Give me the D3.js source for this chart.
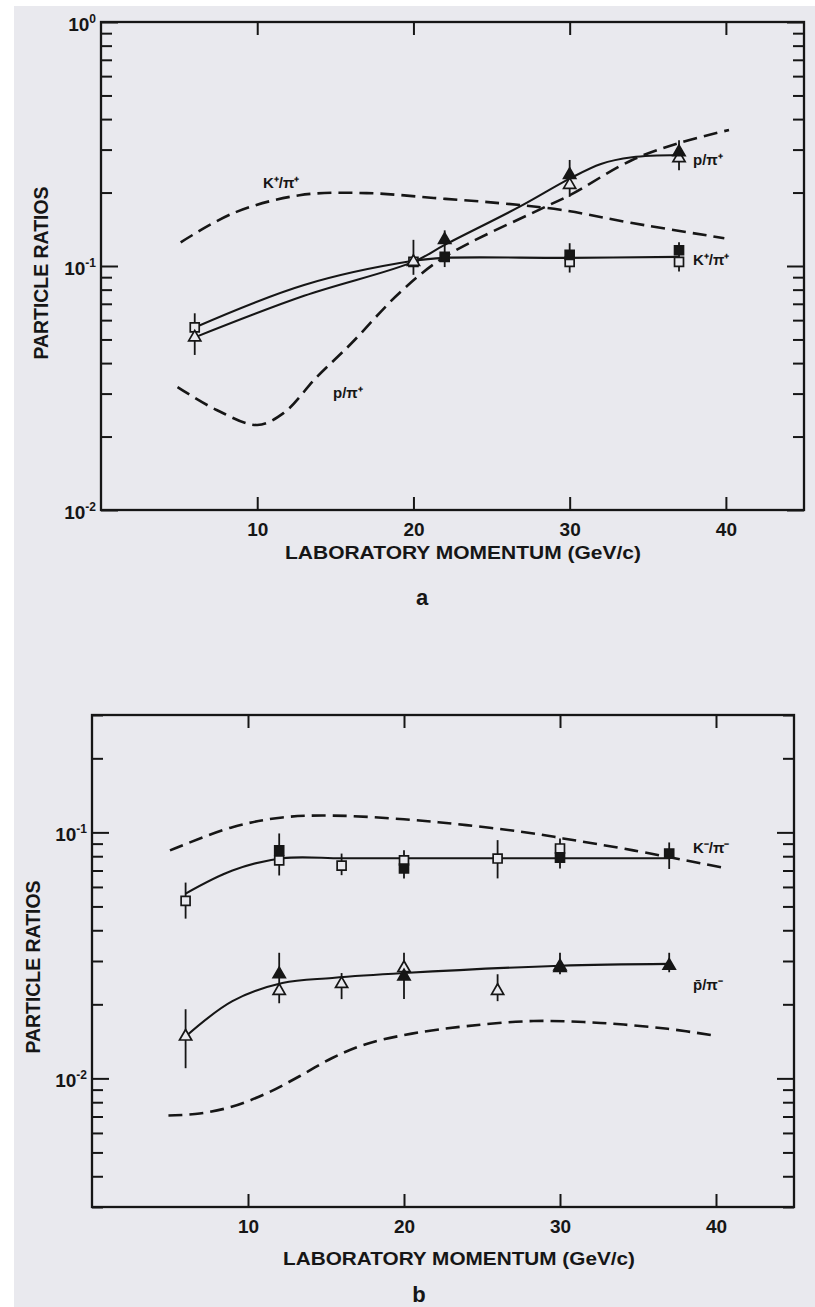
<!DOCTYPE html>
<html><head><meta charset="utf-8">
<script src="https://cdn.jsdelivr.net/npm/d3@7"></script>
<style>body{margin:0;background:#fff}svg{display:block}</style>
</head><body>
<script>
// ---------------- DATA ----------------
const xTicks = [10, 20, 30, 40];
const xDomain = [0, 45];
const xTitle = "LABORATORY MOMENTUM (GeV/c)";
const yTitle = "PARTICLE RATIOS";
const panelLetters = ["a", "b"];
const decadeExpA = [0, -1, -2];
const decadeExpB = [-1, -2];

// Panel a : K+/pi+ and p/pi+
const aKOpenX = [6, 20, 30, 37];
const aKOpenY = [0.056, 0.104, 0.104, 0.104];
const aKFillX = [22, 30, 37];
const aKFillY = [0.109, 0.111, 0.116];
const aPOpenX = [6, 20, 30, 37];
const aPOpenY = [0.051, 0.104, 0.215, 0.277];
const aPFillX = [22, 30, 37];
const aPFillY = [0.128, 0.236, 0.293];
const aErrX  = [6, 20, 22, 30, 30, 37, 37];
const aErrLo = [0.0432, 0.092, 0.099, 0.192, 0.094, 0.247, 0.095];
const aErrHi = [0.064, 0.128, 0.140, 0.272, 0.124, 0.328, 0.125];
const aKSolidX = [6, 13, 20, 22, 30, 37];
const aKSolidY = [0.056, 0.0836, 0.105, 0.108, 0.108, 0.109];
const aPSolidX = [6, 13, 20, 22, 26.8, 30, 32, 34, 37];
const aPSolidY = [0.051, 0.0755, 0.104, 0.122, 0.175, 0.228, 0.262, 0.279, 0.285];
const aKDashX = [5.1, 8.5, 12.7, 17, 21.3, 25.5, 29.4, 34, 39.9];
const aKDashY = [0.125, 0.165, 0.195, 0.199, 0.190, 0.181, 0.170, 0.150, 0.130];
const aPDashX = [4.9, 7.4, 10, 11.7, 13.8, 16, 19.1, 22, 28.3, 30, 34, 37, 40.2];
const aPDashY = [0.0319, 0.0257, 0.0223, 0.025, 0.035, 0.048, 0.0775, 0.109, 0.173, 0.195, 0.272, 0.319, 0.361];

// Panel b : K-/pi- and pbar/pi-
const bKOpenX = [6, 12, 16, 20, 26, 30];
const bKOpenY = [0.0527, 0.0769, 0.0733, 0.0769, 0.0783, 0.086];
const bKFillX = [12, 20, 30, 37];
const bKFillY = [0.0845, 0.0713, 0.079, 0.082];
const bPOpenX = [6, 12, 16, 20, 26, 30];
const bPOpenY = [0.0148, 0.0227, 0.0242, 0.0281, 0.0227, 0.0285];
const bPFillX = [12, 20, 30, 37];
const bPFillY = [0.0265, 0.026, 0.0281, 0.0287];
const bErrX  = [6, 12, 16, 20, 26, 30, 37, 6, 12, 16, 20, 26, 30, 37];
const bErrLo = [0.0446, 0.0668, 0.067, 0.065, 0.065, 0.0713, 0.071, 0.011, 0.0202, 0.021, 0.021, 0.0206, 0.0265, 0.027];
const bErrHi = [0.0625, 0.099, 0.082, 0.0845, 0.093, 0.0945, 0.091, 0.0191, 0.0324, 0.0268, 0.0324, 0.0265, 0.0324, 0.0324];
const bKSolidX = [6, 9, 12.2, 16, 20, 30, 37];
const bKSolidY = [0.0564, 0.070, 0.0785, 0.0785, 0.0785, 0.0785, 0.0785];
const bPSolidX = [6, 9, 12.2, 15.4, 20, 30, 37];
const bPSolidY = [0.0148, 0.0206, 0.0244, 0.0256, 0.0268, 0.0287, 0.0292];
const bKDashX = [5, 9, 12.2, 15.4, 20, 24, 28.3, 30.2, 34.7, 40.4];
const bKDashY = [0.0845, 0.105, 0.115, 0.117, 0.113, 0.107, 0.099, 0.0945, 0.0845, 0.072];
const bPDashX = [4.9, 6.9, 9, 11.2, 13.3, 15.4, 17.6, 20.5, 24, 28.3, 32.6, 36.9, 40];
const bPDashY = [0.00706, 0.0072, 0.00768, 0.0087, 0.0102, 0.0121, 0.0138, 0.0152, 0.0163, 0.0171, 0.0168, 0.0159, 0.0149];

// ---------------- DRAW ----------------
const W = 815, H = 1307;
const ink = "#161616";
const paper = "#e9e9ee";
const font = "'Liberation Sans', Arial, sans-serif";

const svg = d3.select("body").append("svg").attr("width", W).attr("height", H);
svg.append("rect").attr("width", W).attr("height", H).attr("fill", "#fff");
svg.append("rect").attr("x", 14).attr("y", 6).attr("width", W - 14).attr("height", H - 6).attr("fill", paper);

function drawPanel(c) {
  const x = d3.scaleLinear().domain(xDomain).range([c.left, c.right]);
  const y = d3.scaleLog().domain(c.yDomain).range([c.bottom, c.top]);
  const g = svg.append("g");
  const line = d3.line().x(d => x(d[0])).y(d => y(d[1])).curve(d3.curveCatmullRom.alpha(0.5));

  // frame
  g.append("rect").attr("x", c.left).attr("y", c.top)
    .attr("width", c.right - c.left).attr("height", c.bottom - c.top)
    .attr("fill", "none").attr("stroke", ink).attr("stroke-width", 2.3);

  const allT = y.ticks();
  const major = allT.filter(v => Math.abs(Math.log10(v) - Math.round(Math.log10(v))) < 1e-9);
  const minor = allT.filter(v => !major.includes(v));

  function styleAxis(sel) {
    sel.select(".domain").remove();
    sel.selectAll(".tick line").attr("stroke", ink).attr("stroke-width", 2);
  }
  // x axes
  const xb = g.append("g").attr("transform", `translate(0,${c.bottom})`)
    .call(d3.axisBottom(x).tickValues(xTicks).tickSize(-13).tickPadding(13).tickFormat(d3.format("d")));
  styleAxis(xb);
  xb.selectAll(".tick text").attr("fill", ink).attr("font-family", font)
    .attr("font-size", 19).attr("font-weight", "bold");
  const xt = g.append("g").attr("transform", `translate(0,${c.top})`)
    .call(d3.axisTop(x).tickValues(xTicks).tickSize(-13).tickFormat(""));
  styleAxis(xt);

  // y axes (left & right), major and minor
  [[d3.axisLeft, c.left], [d3.axisRight, c.right]].forEach(([ax, pos]) => {
    const gm = g.append("g").attr("transform", `translate(${pos},0)`)
      .call(ax(y).tickValues(minor).tickSize(-11).tickFormat(""));
    styleAxis(gm);
    const gM = g.append("g").attr("transform", `translate(${pos},0)`)
      .call(ax(y).tickValues(major).tickSize(-17).tickFormat(""));
    styleAxis(gM);
  });

  // decade labels
  c.decades.forEach(e => {
    const t = g.append("text").attr("x", c.left - 5).attr("y", y(Math.pow(10, e)) + 9)
      .attr("text-anchor", "end").attr("fill", ink).attr("font-family", font)
      .attr("font-weight", "bold").attr("font-size", 19);
    t.append("tspan").text("10");
    t.append("tspan").attr("dy", -8).attr("font-size", 12).text(e === 0 ? "0" : String(e));
  });

  // titles
  g.append("text").attr("x", c.xTitleX).attr("y", c.xTitleY).attr("text-anchor", "middle")
    .attr("fill", ink).attr("font-family", font).attr("font-weight", "bold").attr("font-size", 19)
    .attr("textLength", c.xTitleLen).attr("lengthAdjust", "spacingAndGlyphs").text(xTitle);
  g.append("text").attr("transform", `translate(${c.yTitleX},${c.yTitleY}) rotate(-90)`)
    .attr("text-anchor", "middle").attr("fill", ink).attr("font-family", font)
    .attr("font-weight", "bold").attr("font-size", 20)
    .attr("textLength", 173).attr("lengthAdjust", "spacingAndGlyphs").text(yTitle);
  g.append("text").attr("x", c.letterX).attr("y", c.letterY).attr("text-anchor", "middle")
    .attr("fill", ink).attr("font-family", font).attr("font-weight", "bold").attr("font-size", 22)
    .text(c.letter);

  // curves
  c.dashes.forEach(([xs, ys]) => {
    g.append("path").attr("d", line(d3.zip(xs, ys))).attr("fill", "none")
      .attr("stroke", ink).attr("stroke-width", 2.6).attr("stroke-dasharray", "14,7");
  });
  c.solids.forEach(([xs, ys]) => {
    g.append("path").attr("d", line(d3.zip(xs, ys))).attr("fill", "none")
      .attr("stroke", ink).attr("stroke-width", 2.1);
  });
  // error bars
  c.errX.forEach((xv, i) => {
    g.append("line").attr("x1", x(xv)).attr("x2", x(xv))
      .attr("y1", y(c.errLo[i])).attr("y2", y(c.errHi[i]))
      .attr("stroke", ink).attr("stroke-width", 1.8);
  });
  // symbols
  const sq = d3.symbol().type(d3.symbolSquare).size(80);
  const tri = d3.symbol().type(d3.symbolTriangle).size(64);
  function pts(xs, ys, gen, filled) {
    xs.forEach((xv, i) => {
      g.append("path").attr("d", gen()).attr("transform", `translate(${x(xv)},${y(ys[i])})`)
        .attr("fill", filled ? ink : paper).attr("stroke", ink).attr("stroke-width", 1.7);
    });
  }
  pts(c.kOpen[0], c.kOpen[1], sq, false);
  pts(c.kFill[0], c.kFill[1], sq, true);
  pts(c.pOpen[0], c.pOpen[1], tri, false);
  pts(c.pFill[0], c.pFill[1], tri, true);

  // curve labels
  c.labels.forEach(([txt, lx, ly]) => {
    g.append("text").attr("x", lx).attr("y", ly).attr("fill", ink)
      .attr("font-family", font).attr("font-weight", "bold").attr("font-size", 15).text(txt);
  });
}

drawPanel({
  left: 101, right: 804, top: 22, bottom: 510, yDomain: [0.01, 1], decades: decadeExpA,
  xTitleX: 463, xTitleY: 559, xTitleLen: 356, yTitleX: 48, yTitleY: 273,
  letter: panelLetters[0], letterX: 422, letterY: 605,
  dashes: [[aKDashX, aKDashY], [aPDashX, aPDashY]],
  solids: [[aKSolidX, aKSolidY], [aPSolidX, aPSolidY]],
  errX: aErrX, errLo: aErrLo, errHi: aErrHi,
  kOpen: [aKOpenX, aKOpenY], kFill: [aKFillX, aKFillY],
  pOpen: [aPOpenX, aPOpenY], pFill: [aPFillX, aPFillY],
  labels: [["K\u207A/\u03C0\u207A", 263, 188], ["p/\u03C0\u207A", 333, 398],
           ["p/\u03C0\u207A", 693, 165], ["K\u207A/\u03C0\u207A", 693, 265]]
});

drawPanel({
  left: 92, right: 794, top: 715, bottom: 1207, yDomain: [0.003, 0.3], decades: decadeExpB,
  xTitleX: 459, xTitleY: 1265, xTitleLen: 352, yTitleX: 40, yTitleY: 967,
  letter: panelLetters[1], letterX: 419, letterY: 1302,
  dashes: [[bKDashX, bKDashY], [bPDashX, bPDashY]],
  solids: [[bKSolidX, bKSolidY], [bPSolidX, bPSolidY]],
  errX: bErrX, errLo: bErrLo, errHi: bErrHi,
  kOpen: [bKOpenX, bKOpenY], kFill: [bKFillX, bKFillY],
  pOpen: [bPOpenX, bPOpenY], pFill: [bPFillX, bPFillY],
  labels: [["K\u207B/\u03C0\u207B", 693, 853], ["p\u0304/\u03C0\u207B", 693, 990]]
});
</script>
</body></html>
